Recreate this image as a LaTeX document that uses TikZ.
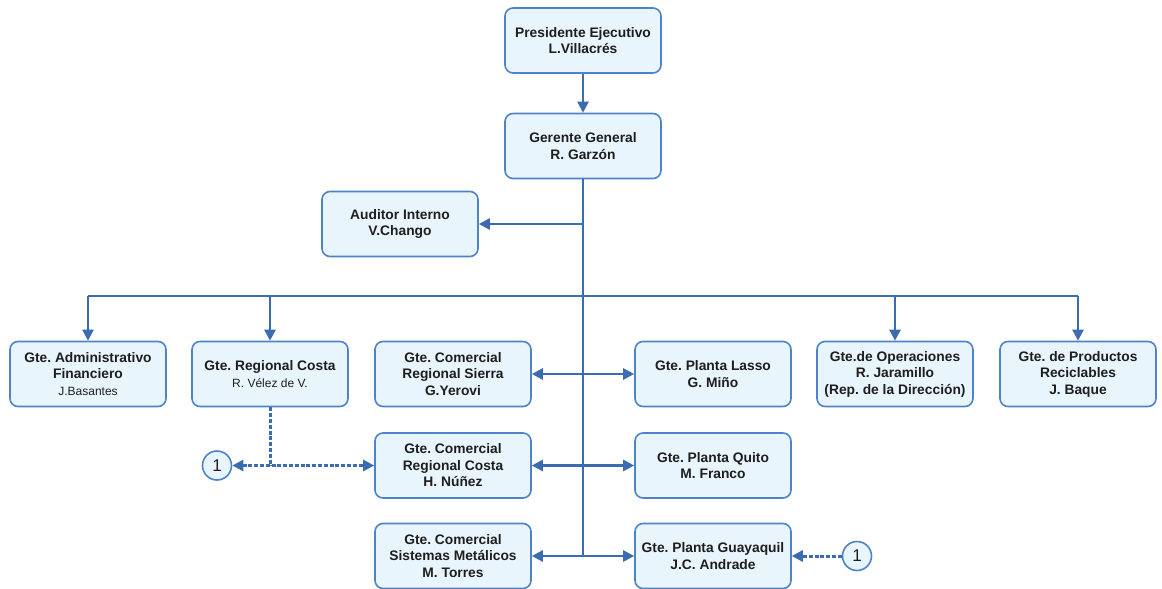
\documentclass[tikz,border=0pt]{standalone}
\usepackage{fontspec}
\setmainfont{Liberation Sans}
\usetikzlibrary{arrows.meta}
\definecolor{boxfill}{HTML}{E8F5FC}
\definecolor{boxline}{HTML}{4F83C9}
\definecolor{conn}{HTML}{3B6BB0}
\definecolor{txt}{HTML}{1E1E1E}
% smaller, regular-weight line inside a unit box
\newcommand\subname[1]{{\fontsize{12}{15}\selectfont\mdseries #1}}
\frenchspacing
\begin{document}
\begin{tikzpicture}[x=1pt,y=-1pt,
  >={Triangle[length=11pt,width=11pt]},
  unit/.style={draw=boxline, line width=1.6pt, fill=boxfill, rounded corners=8pt,
    minimum width=156pt, minimum height=65pt, align=center, text=txt,
    font=\fontsize{13.8}{16.5}\selectfont\bfseries, inner sep=2pt},
  refmark/.style={circle, draw=boxline, line width=1.6pt, fill=boxfill,
    minimum size=29pt, inner sep=0pt, text=txt, font=\fontsize{17}{17}\selectfont},
  link/.style={draw=conn, line width=2.5pt},
  dotlink/.style={draw=conn, line width=3pt, dash pattern=on 4pt off 1.8pt}]
\useasboundingbox (0,0) rectangle (1162,589);

% top of the hierarchy
\node[unit] (pres) at (583,40.5) {Presidente Ejecutivo\\L.Villacrés};
\node[unit] (ger) at (583,146) {Gerente General\\R. Garzón};
\node[unit] (aud) at (400,224) {Auditor Interno\\V.Chango};

% first row of managers
\node[unit] (adm) at (88,374) {Gte. Administrativo\\Financiero\\\subname{J.Basantes}};
\node[unit] (regc) at (270,374) {Gte. Regional Costa\\\subname{R. Vélez de V.}};
\node[unit] (sierra) at (453,374) {Gte. Comercial\\Regional Sierra\\G.Yerovi};
\node[unit] (lasso) at (713,374) {Gte. Planta Lasso\\G. Miño};
\node[unit] (oper) at (895,374) {Gte.de Operaciones\\R. Jaramillo\\(Rep. de la Dirección)};
\node[unit] (recic) at (1078,374) {Gte. de Productos\\Reciclables\\J. Baque};

% lower rows along the trunk
\node[unit] (costa) at (453,465.5) {Gte. Comercial\\Regional Costa\\H. Núñez};
\node[unit] (quito) at (713,465.5) {Gte. Planta Quito\\M. Franco};
\node[unit] (metal) at (453,556) {Gte. Comercial\\Sistemas Metálicos\\M. Torres};
\node[unit] (gye) at (713,556) {Gte. Planta Guayaquil\\J.C. Andrade};

% off-page reference marks
\node[refmark] (c1) at (217,465.5) {1};
\node[refmark] (c2) at (857,556) {1};

% main trunk and branches
\draw[link,->] (pres) -- (ger);
\coordinate (trunkend) at (ger.south |- metal.east);
\draw[link] (ger.south) -- (trunkend);
\draw[link,->] (ger.south |- aud.east) -- (aud.east);

\coordinate (busL) at (88,296);
\coordinate (busR) at (1078,296);
\draw[link] (busL) -- (busR);
\draw[link,->] (adm.north |- busL) -- (adm.north);
\draw[link,->] (regc.north |- busL) -- (regc.north);
\draw[link,->] (oper.north |- busL) -- (oper.north);
\draw[link,->] (recic.north |- busL) -- (recic.north);

\draw[link,<->] (sierra.east) -- (lasso.west);
\draw[link,<->] (costa.east) -- (quito.west);
\draw[link,<->] (metal.east) -- (gye.west);

% dotted coordination links
\draw[dotlink] (regc.south) -- (regc.south |- costa.west);
\draw[dotlink,<->] (c1.east) -- (costa.west);
\draw[dotlink,->] (c2.west) -- (gye.east);
\end{tikzpicture}
\end{document}
